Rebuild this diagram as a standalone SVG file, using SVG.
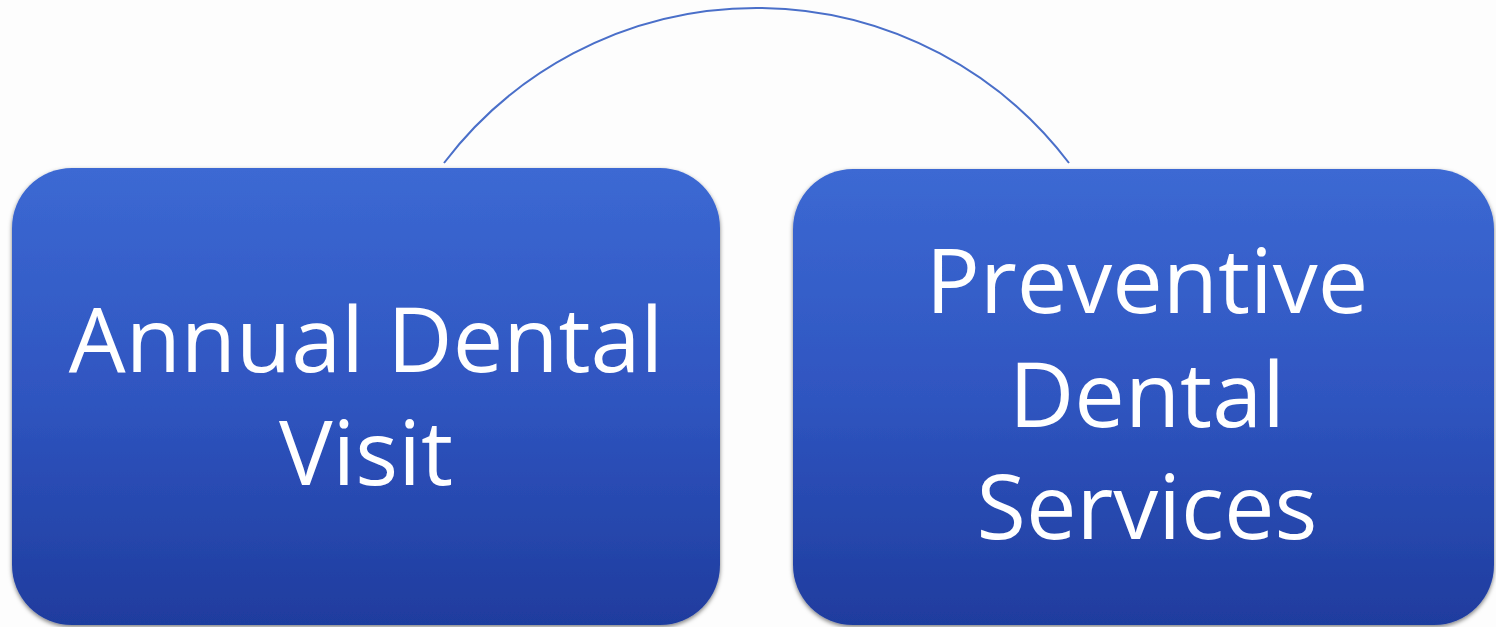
<svg xmlns="http://www.w3.org/2000/svg" width="1496" height="627" viewBox="0 0 1496 627">
  <defs>
    <linearGradient id="boxGrad" x1="0" y1="0" x2="0" y2="1">
      <stop offset="0" stop-color="#3c69d3"/>
      <stop offset="0.5" stop-color="#2f55c0"/>
      <stop offset="1" stop-color="#1f3c9e"/>
    </linearGradient>
    <filter id="shadow" x="-5%" y="-5%" width="110%" height="115%">
      <feDropShadow dx="0" dy="2" stdDeviation="2" flood-color="#000" flood-opacity="0.5"/>
    </filter>
  </defs>
  <style>
    .box { fill: url(#boxGrad); filter: url(#shadow); }
    .label { fill: #ffffff; font-family: "Open Sans", "Noto Sans", sans-serif; font-size: 90px; text-anchor: middle; }
    .conn { fill: none; stroke: #4a6fc9; stroke-width: 2; }
  </style>
  <rect width="1496" height="627" fill="#fdfdfd"/>
  <g id="connectors">
    <path class="conn" d="M 444 163 A 392.5 392.5 0 0 1 1069 163"/>
  </g>
  <g id="node-annual">
    <rect class="box" x="12" y="168" width="708" height="457" rx="60" ry="60"/>
    <text class="label" x="366" y="372">Annual Dental</text>
    <text class="label" x="366" y="485">Visit</text>
  </g>
  <g id="node-preventive">
    <rect class="box" x="793" y="169" width="701" height="456" rx="60" ry="60"/>
    <text class="label" x="1147" y="313">Preventive</text>
    <text class="label" x="1147" y="427">Dental</text>
    <text class="label" x="1147" y="539">Services</text>
  </g>
</svg>
